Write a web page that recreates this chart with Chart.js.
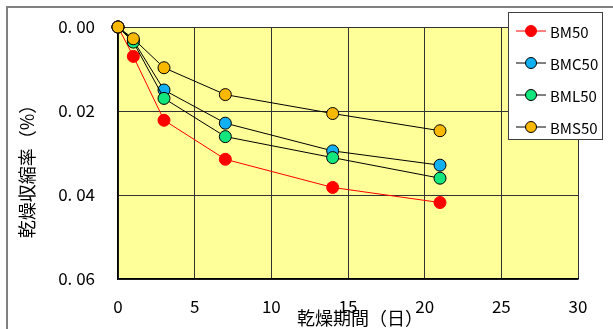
<!DOCTYPE html>
<html>
<head>
<meta charset="utf-8">
<script src="https://cdn.jsdelivr.net/npm/chart.js@4/dist/chart.umd.min.js"></script>
<style>
  html, body { margin: 0; padding: 0; background: #ffffff; }
  canvas { display: block; }
</style>
</head>
<body>
<canvas id="c" width="613" height="329"></canvas>
<script>
// Drying period (days) and drying shrinkage (%) per mix
const days  = [0, 1, 3, 7, 14, 21];
const bm50  = [0, 0.0070, 0.0222, 0.0315, 0.0382, 0.0418];
const bmc50 = [0, 0.0032, 0.0150, 0.0229, 0.0295, 0.0329];
const bml50 = [0, 0.0036, 0.0170, 0.0261, 0.0311, 0.0360];
const bms50 = [0, 0.0028, 0.0097, 0.0161, 0.0206, 0.0247];

const seriesNames = ['BM50', 'BMC50', 'BML50', 'BMS50'];
const xTicks = [0, 5, 10, 15, 20, 25, 30];
const yTicks = [0, 0.02, 0.04, 0.06];
const xTitle = '乾燥期間（日）';
const yTitle = '乾燥収縮率（%）';

const FONT = '"Noto Sans CJK JP", "Noto Sans", sans-serif';

function pts(ys) { return days.map((d, i) => ({ x: d, y: ys[i] })); }

const styles = [
  { line: '#ff0000', fill: '#ff0000', edge: '#ff0000' },
  { line: '#000000', fill: '#12b0f0', edge: '#000000' },
  { line: '#000000', fill: '#12e67c', edge: '#000000' },
  { line: '#000000', fill: '#f8b800', edge: '#000000' }
];
const values = [bm50, bmc50, bml50, bms50];

const datasets = seriesNames.map((name, i) => ({
  label: name,
  data: pts(values[i]),
  borderColor: styles[i].line,
  borderWidth: 1,
  pointRadius: 6,
  pointHoverRadius: 6,
  pointBackgroundColor: styles[i].fill,
  pointBorderColor: styles[i].edge,
  pointBorderWidth: 1,
  tension: 0,
  clip: false,
  order: seriesNames.length - 1 - i
}));

// Yellow plot background and the grey outer frame
const backdrop = {
  id: 'backdrop',
  beforeDraw(chart) {
    const { ctx, chartArea: a } = chart;
    ctx.save();
    ctx.fillStyle = '#ffff99';
    ctx.fillRect(a.left, a.top, a.right - a.left, a.bottom - a.top);
    ctx.strokeStyle = '#808080';
    ctx.lineWidth = 2;
    ctx.beginPath();
    ctx.moveTo(7, chart.height + 2);
    ctx.lineTo(7, 7);
    ctx.lineTo(chart.width + 2, 7);
    ctx.stroke();
    ctx.restore();
  }
};

// Axis titles
const axisTitles = {
  id: 'axisTitles',
  afterDraw(chart) {
    const { ctx } = chart;
    ctx.save();
    ctx.fillStyle = '#000000';
    ctx.font = '18px ' + FONT;
    ctx.textAlign = 'center';
    ctx.textBaseline = 'middle';
    ctx.fillText(xTitle, 360, 318);
    ctx.translate(27, 167);
    ctx.rotate(-Math.PI / 2);
    ctx.fillText(yTitle, 0, 0);
    ctx.restore();
  }
};

// Boxed legend with a line-and-marker sample for each series
const boxLegend = {
  id: 'boxLegend',
  afterDraw(chart) {
    const { ctx } = chart;
    const bx = 508.5, by = 12.5, bw = 94, bh = 127;
    ctx.save();
    ctx.fillStyle = '#ffffff';
    ctx.fillRect(bx, by, bw, bh);
    ctx.strokeStyle = '#404040';
    ctx.lineWidth = 1;
    ctx.strokeRect(bx, by, bw, bh);
    ctx.font = '15px ' + FONT;
    ctx.textAlign = 'left';
    ctx.textBaseline = 'middle';
    chart.data.datasets.forEach((ds, i) => {
      const y = 31 + i * 32;
      ctx.strokeStyle = ds.borderColor;
      ctx.lineWidth = 1;
      ctx.beginPath();
      ctx.moveTo(516, y);
      ctx.lineTo(546, y);
      ctx.stroke();
      ctx.beginPath();
      ctx.arc(531, y, 5.5, 0, Math.PI * 2);
      ctx.fillStyle = ds.pointBackgroundColor;
      ctx.fill();
      ctx.strokeStyle = ds.pointBorderColor;
      ctx.stroke();
      ctx.fillStyle = '#000000';
      ctx.fillText(ds.label, 550, y + 1);
    });
    ctx.restore();
  }
};

new Chart(document.getElementById('c'), {
  type: 'line',
  data: { datasets },
  plugins: [backdrop, axisTitles, boxLegend],
  options: {
    responsive: false,
    animation: false,
    layout: { padding: { left: 0, top: 27, right: 35, bottom: 0 } },
    plugins: {
      legend: { display: false },
      tooltip: { enabled: false }
    },
    scales: {
      x: {
        type: 'linear',
        min: xTicks[0],
        max: xTicks[xTicks.length - 1],
        afterBuildTicks(scale) { scale.ticks = xTicks.map(v => ({ value: v })); },
        afterFit(scale) {
          scale.height = 50;
          scale.paddingLeft = 0;
          scale.paddingRight = 0;
        },
        grid: { color: '#333333', lineWidth: 1, drawTicks: false },
        border: { color: '#000000', width: 1.5 },
        ticks: {
          color: '#000000',
          padding: 17,
          font: { family: FONT, size: 17 },
          callback: v => String(v)
        }
      },
      y: {
        type: 'linear',
        reverse: true,
        min: yTicks[0],
        max: yTicks[yTicks.length - 1],
        afterBuildTicks(scale) { scale.ticks = yTicks.map(v => ({ value: v })); },
        afterFit(scale) {
          scale.width = 118;
          scale.paddingTop = 0;
          scale.paddingBottom = 0;
        },
        grid: { color: '#333333', lineWidth: 1, drawTicks: false },
        border: { color: '#000000', width: 1.5 },
        ticks: {
          color: '#000000',
          padding: 23,
          font: { family: FONT, size: 17 },
          callback: v => v.toFixed(2).replace('.', '. ')
        }
      }
    }
  }
});
</script>
</body>
</html>
